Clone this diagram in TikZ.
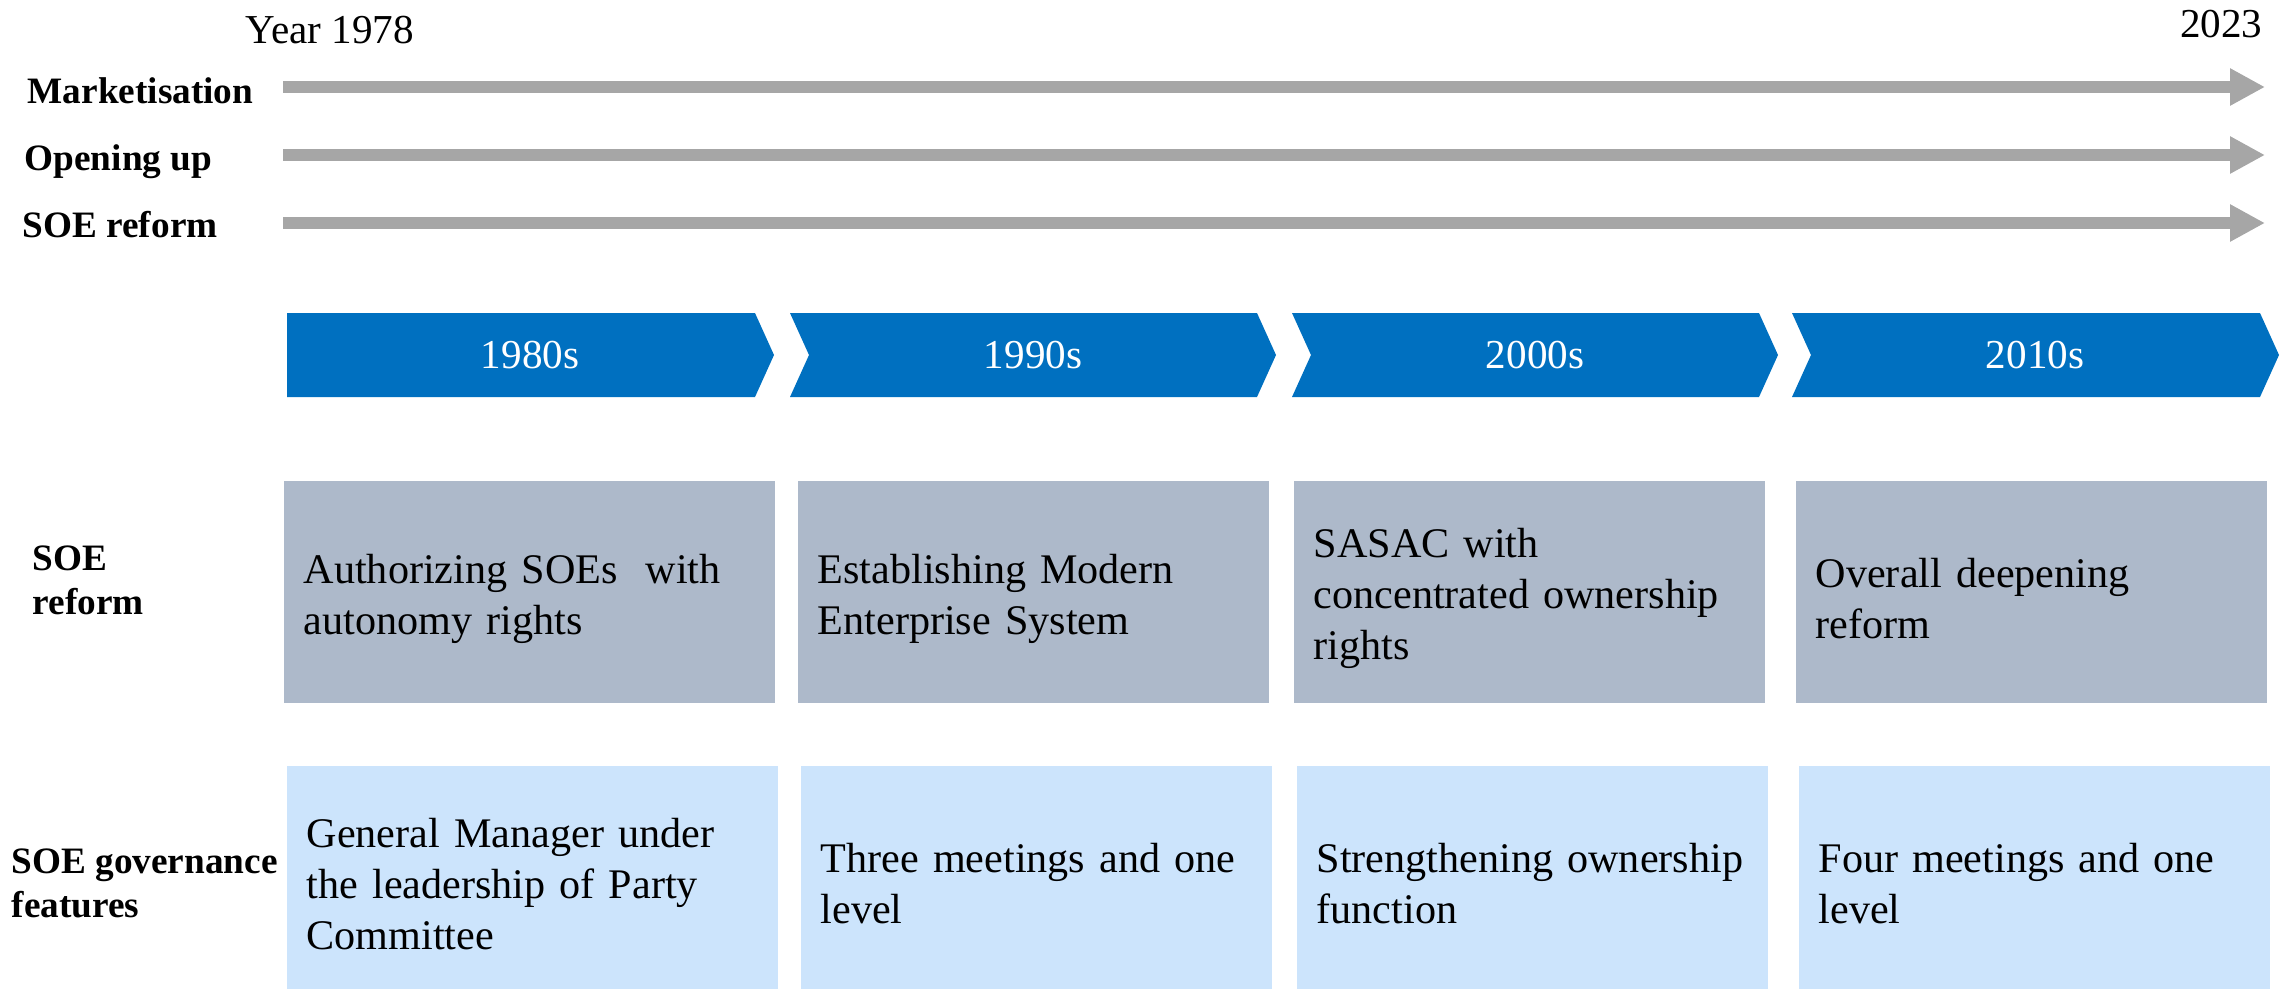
\documentclass[tikz,border=0pt]{standalone}
\usepackage{fontspec}
\setmainfont{Liberation Serif}
\usetikzlibrary{arrows.meta}

\definecolor{chevblue}{RGB}{0,112,192}
\definecolor{reformgray}{RGB}{173,185,202}
\definecolor{govblue}{RGB}{204,228,252}
\definecolor{arrowgray}{RGB}{166,166,166}

\begin{document}
\begin{tikzpicture}[
    x=0.1mm, y=-0.1mm,
    % Define styles
    rowlabel/.style={font=\fontsize{10.6}{12.5}\selectfont\bfseries, align=left, inner sep=0pt},
    yearlabel/.style={font=\fontsize{11.7}{14}\selectfont, inner sep=0pt},
    timeline/.style={draw=arrowgray, line width=1.2mm, -{Triangle[length=3.5mm, width=3.5mm]}},
    chevron/.style={fill=chevblue},
    decade/.style={font=\fontsize{11.7}{14}\selectfont, text=white, inner sep=0pt},
    reformbox/.style={rectangle, fill=reformgray, anchor=north west, minimum height=2.22cm, inner xsep=2mm, inner ysep=0pt, align=left, font=\fontsize{12}{14.5}\selectfont, execute at begin node={\rule{0pt}{12.2pt}}},
    govbox/.style={rectangle, fill=govblue, anchor=north west, minimum height=2.36cm, inner xsep=2mm, inner ysep=0pt, align=left, font=\fontsize{12}{14.5}\selectfont}
]
\useasboundingbox (0,0) rectangle (2295,989);

% Years
\node[yearlabel, anchor=base west] (year_start) at (245,43) {Year 1978};
\node[yearlabel, anchor=base east] (year_end) at (2263,37) {2023};

% Timeline labels
\node[rowlabel, anchor=base west] (lbl_market) at (27,103) {Marketisation};
\node[rowlabel, anchor=base west] (lbl_open) at (24,170) {Opening up};
\node[rowlabel, anchor=base west] (lbl_soe) at (22,237) {SOE reform};

% Timeline arrows
\coordinate (market_start) at (283,87);
\coordinate (market_end) at (2265,87);
\coordinate (open_start) at (283,155);
\coordinate (open_end) at (2265,155);
\coordinate (soe_start) at (283,223);
\coordinate (soe_end) at (2265,223);
\draw[timeline] (market_start) -- (market_end);
\draw[timeline] (open_start) -- (open_end);
\draw[timeline] (soe_start) -- (soe_end);

% Decade chevrons
\fill[chevron] (287,313) -- (755,313) -- (774,355) -- (755,397) -- (287,397) -- cycle;
\fill[chevron] (790,313) -- (1257,313) -- (1276,355) -- (1257,397) -- (790,397) -- (809,355) -- cycle;
\fill[chevron] (1292,313) -- (1759,313) -- (1778,355) -- (1759,397) -- (1292,397) -- (1311,355) -- cycle;
\fill[chevron] (1792,313) -- (2260,313) -- (2279,355) -- (2260,397) -- (1792,397) -- (1811,355) -- cycle;
\node[decade] (d1980) at (530,355) {1980s};
\node[decade] (d1990) at (1033,355) {1990s};
\node[decade] (d2000) at (1535,355) {2000s};
\node[decade] (d2010) at (2035,355) {2010s};

% Row labels
\node[rowlabel, anchor=west] (lbl_reform) at (32,580) {SOE\\reform};
\node[rowlabel, anchor=west] (lbl_gov) at (11,883) {SOE governance\\features};

% SOE reform row
\node[reformbox, minimum width=4.91cm, text width=4.51cm] (reform_80) at (283,480) {Authorizing SOEs\ \ with\\autonomy rights};
\node[reformbox, minimum width=4.71cm, text width=4.31cm] (reform_90) at (797,480) {Establishing Modern\\Enterprise System};
\node[reformbox, minimum width=4.71cm, text width=4.31cm] (reform_00) at (1293,480) {SASAC with\\concentrated ownership\\rights};
\node[reformbox, minimum width=4.71cm, text width=4.31cm] (reform_10) at (1795,480) {Overall deepening\\reform};

% Governance row
\node[govbox, minimum width=4.91cm, text width=4.51cm] (gov_80) at (286,765) {General Manager under\\the leadership of Party\\Committee};
\node[govbox, minimum width=4.71cm, text width=4.31cm] (gov_90) at (800,765) {Three meetings and one\\level};
\node[govbox, minimum width=4.71cm, text width=4.31cm] (gov_00) at (1296,765) {Strengthening ownership\\function};
\node[govbox, minimum width=4.71cm, text width=4.31cm] (gov_10) at (1798,765) {Four meetings and one\\level};

\end{tikzpicture}
\end{document}
